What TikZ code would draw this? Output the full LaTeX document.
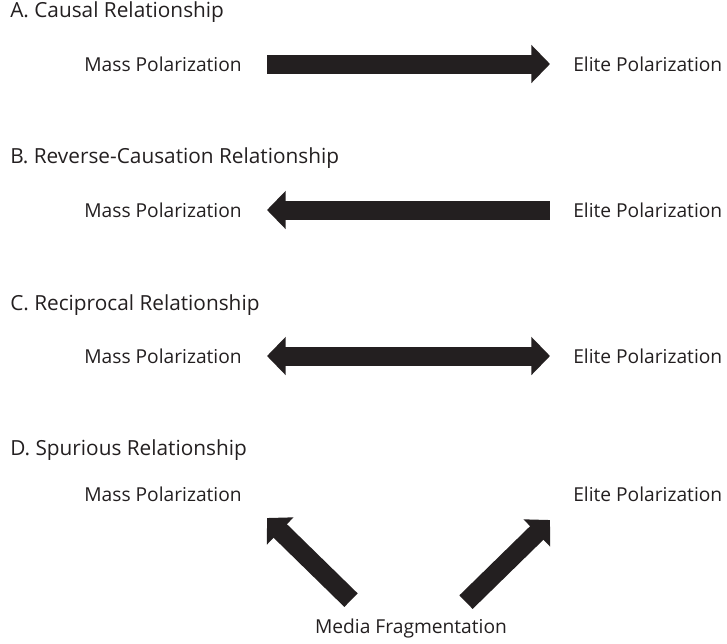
\documentclass[tikz,border=0pt]{standalone}
\usepackage{fontspec}
\setmainfont{Open Sans}
\usepackage{tikz}
\usetikzlibrary{arrows.meta,positioning}
\definecolor{fig-ink}{HTML}{231F20}

\begin{document}
\begin{tikzpicture}[x=0.75pt,y=-0.75pt,
    >={Triangle[length=13.9pt,width=27.75pt]},
    ttl/.style={text=fig-ink,font=\fontsize{15.6}{18}\selectfont,anchor=west,inner sep=0pt},
    lbl/.style={text=fig-ink,font=\fontsize{14.4}{17}\selectfont,inner sep=0pt},
    blk/.style={fig-ink,line width=14.25pt}]
  \useasboundingbox (0,0) rectangle (727,643);
  % A
  \node[ttl] (tA) at (10,12) {A. Causal Relationship};
  \node[lbl,anchor=east] (mA) at (242,64) {Mass Polarization};
  \node[lbl,anchor=west] (eA) at (573,64) {Elite Polarization};
  \draw[blk,->,shorten <=18.75pt,shorten >=17.25pt] (mA) -- (eA);
  % B
  \node[ttl] (tB) at (10,158) {B. Reverse-Causation Relationship};
  \node[lbl,anchor=east] (mB) at (242,210) {Mass Polarization};
  \node[lbl,anchor=west] (eB) at (573,210) {Elite Polarization};
  \draw[blk,<-,shorten <=18.75pt,shorten >=17.25pt] (mB) -- (eB);
  % C
  \node[ttl] (tC) at (10,305) {C. Reciprocal Relationship};
  \node[lbl,anchor=east] (mC) at (242,356) {Mass Polarization};
  \node[lbl,anchor=west] (eC) at (573,356) {Elite Polarization};
  \draw[blk,<->,shorten <=18.75pt,shorten >=17.25pt] (mC) -- (eC);
  % D
  \node[ttl] (tD) at (10,450) {D. Spurious Relationship};
  \node[lbl,anchor=east] (mD) at (242,494) {Mass Polarization};
  \node[lbl,anchor=west] (eD) at (573,494) {Elite Polarization};
  \node[lbl] (med) at (411,628) {Media Fragmentation};
  \draw[blk,->] ([shift={(-60,-18)}]med.north) -- ([shift={(25,24)}]mD.east);
  \draw[blk,->] ([shift={(55,-16)}]med.north) -- ([shift={(-23,26)}]eD.west);
\end{tikzpicture}
\end{document}
